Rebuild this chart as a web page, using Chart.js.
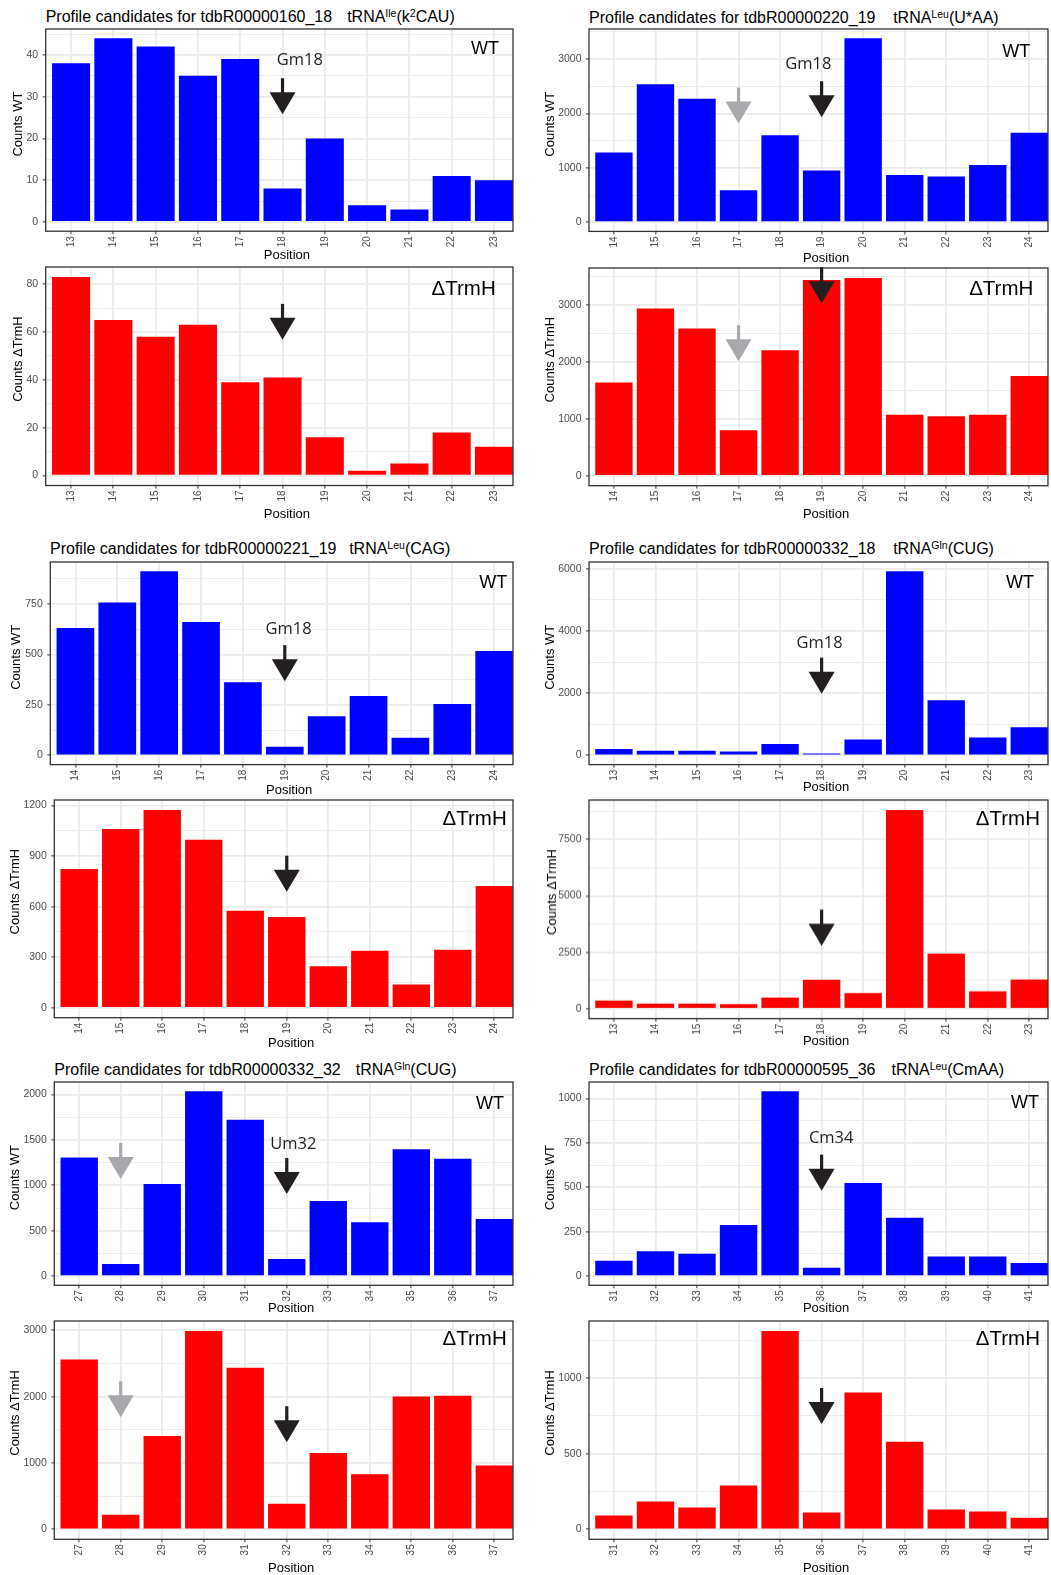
<!DOCTYPE html>
<html>
<head>
<meta charset="utf-8">
<script src="https://cdn.jsdelivr.net/npm/chart.js@4.4.1/dist/chart.umd.min.js"></script>
<style>
  body { margin: 0; background: #fff; width: 1051px; height: 1575px; position: relative; overflow: hidden;
         font-family: "Liberation Sans", Arial, sans-serif; }
  .panel { position: absolute; }
  .title { position: absolute; font-size: 16px; line-height: 18px; white-space: nowrap; color: #000; }
  .title sup { font-size: 10.5px; line-height: 0; vertical-align: 5px; }
</style>
</head>
<body>
<div class="title" style="left:45.7px;top:7.8px">Profile candidates for tdbR00000160_18<span style="margin-left:15px">tRNA<sup>Ile</sup>(k<sup>2</sup>CAU)</span></div>
<div class="title" style="left:589px;top:8.8px">Profile candidates for tdbR00000220_19<span style="margin-left:17.7px">tRNA<sup>Leu</sup>(U*AA)</span></div>
<div class="title" style="left:50px;top:539.5px">Profile candidates for tdbR00000221_19<span style="margin-left:12.7px">tRNA<sup>Leu</sup>(CAG)</span></div>
<div class="title" style="left:589px;top:539.7px">Profile candidates for tdbR00000332_18<span style="margin-left:17.7px">tRNA<sup>Gln</sup>(CUG)</span></div>
<div class="title" style="left:54.3px;top:1061px">Profile candidates for tdbR00000332_32<span style="margin-left:15px">tRNA<sup>Gln</sup>(CUG)</span></div>
<div class="title" style="left:589px;top:1061px">Profile candidates for tdbR00000595_36<span style="margin-left:16px">tRNA<sup>Leu</sup>(CmAA)</span></div>

<script>
// ---- data: read counts per position ----
const pos160 = [13, 14, 15, 16, 17, 18, 19, 20, 21, 22, 23];
const wt160 = [38, 44, 42, 35, 39, 8, 20, 4, 3, 11, 10];
const trmh160 = [83, 65, 58, 63, 39, 41, 16, 2, 5, 18, 12];
const ticksWt160 = [0, 10, 20, 30, 40];
const ticksTrmh160 = [0, 20, 40, 60, 80];

const pos220 = [14, 15, 16, 17, 18, 19, 20, 21, 22, 23, 24];
const wt220 = [1280, 2540, 2270, 590, 1600, 950, 3385, 868, 843, 1051, 1644];
const trmh220 = [1637, 2936, 2586, 798, 2202, 3437, 3472, 1072, 1043, 1072, 1753];
const ticksWt220 = [0, 1000, 2000, 3000];
const ticksTrmh220 = [0, 1000, 2000, 3000];

const pos221 = [14, 15, 16, 17, 18, 19, 20, 21, 22, 23, 24];
const wt221 = [632, 758, 913, 661, 362, 43, 194, 294, 87, 255, 518];
const trmh221 = [824, 1060, 1174, 997, 576, 539, 246, 338, 138, 344, 722];
const ticksWt221 = [0, 250, 500, 750];
const ticksTrmh221 = [0, 300, 600, 900, 1200];

const pos332a = [13, 14, 15, 16, 17, 18, 19, 20, 21, 22, 23];
const wt332a = [203, 150, 150, 128, 363, 64, 512, 5925, 1772, 576, 907];
const trmh332a = [354, 221, 221, 207, 487, 1284, 694, 8814, 2436, 768, 1299];
const ticksWt332a = [0, 2000, 4000, 6000];
const ticksTrmh332a = [0, 2500, 5000, 7500];

const pos332b = [27, 28, 29, 30, 31, 32, 33, 34, 35, 36, 37];
const wt332b = [1308, 132, 1015, 2037, 1722, 187, 828, 593, 1399, 1293, 630];
const trmh332b = [2559, 220, 1407, 2990, 2434, 386, 1152, 831, 2003, 2013, 962];
const ticksWt332b = [0, 500, 1000, 1500, 2000];
const ticksTrmh332b = [0, 1000, 2000, 3000];

const pos595 = [31, 32, 33, 34, 35, 36, 37, 38, 39, 40, 41];
const wt595 = [86, 140, 125, 288, 1041, 47, 524, 328, 110, 110, 73];
const trmh595 = [92, 185, 145, 290, 1312, 112, 905, 580, 132, 119, 77];
const ticksWt595 = [0, 250, 500, 750, 1000];
const ticksTrmh595 = [0, 500, 1000];

const BLUE = '#0000FF', RED = '#FF0000';
const DARK = '#231F20', GREY = '#A7A9AC';
const FAMILY = "'Liberation Sans', Arial, sans-serif";
const WT_DY = -6, TRMH_DY = -17.2;   // axis titles sit a bit above the panel centre

// ---- panel layout (page pixels) and annotations ----
const panels = [
  { col: 0, box: {l: 45.7, t: 29.3, r: 513, b: 231.5}, x: pos160, y: wt160, ticks: ticksWt160, color: BLUE,
    yTitle: 'Counts WT', ytx: 18.3, ytDy: WT_DY, posY: 255.3, tag: ['WT', 499, 49.3, 18],
    arrows: [{x: 18, tip: 25.8, c: DARK}], notes: [{t: 'Gm18', x: 18.41, y: 38.7}] },
  { col: 0, box: {l: 45.7, t: 267.3, r: 513, b: 485.8}, x: pos160, y: trmh160, ticks: ticksTrmh160, color: RED,
    yTitle: 'Counts ΔTrmH', ytx: 18.3, ytDy: TRMH_DY, posY: 514.3, tag: ['ΔTrmH', 495.7, 290, 20.5],
    arrows: [{x: 18, tip: 56.7, c: DARK}], notes: [] },
  { col: 525, box: {l: 589, t: 29.3, r: 1048, b: 231.7}, x: pos220, y: wt220, ticks: ticksWt220, color: BLUE,
    yTitle: 'Counts WT', ytx: 550, ytDy: WT_DY, posY: 258.3, tag: ['WT', 1030.3, 52.7, 18],
    arrows: [{x: 17, tip: 1815, c: GREY}, {x: 19, tip: 1931, c: DARK}], notes: [{t: 'Gm18', x: 18.68, y: 2914}] },
  { col: 525, box: {l: 589, t: 268.3, r: 1048, b: 486}, x: pos220, y: trmh220, ticks: ticksTrmh220, color: RED,
    yTitle: 'Counts ΔTrmH', ytx: 550.3, ytDy: TRMH_DY, posY: 514.3, tag: ['ΔTrmH', 1033.3, 290, 20.5],
    arrows: [{x: 17, tip: 2010, c: GREY}, {x: 19, tip: 3029, c: DARK}], notes: [] },
  { col: 0, box: {l: 50.3, t: 561.7, r: 513, b: 764.3}, x: pos221, y: wt221, ticks: ticksWt221, color: BLUE,
    yTitle: 'Counts WT', ytx: 16, ytDy: WT_DY, posY: 790, tag: ['WT', 507.3, 582.7, 18],
    arrows: [{x: 19, tip: 368, c: DARK}], notes: [{t: 'Gm18', x: 19.09, y: 627}] },
  { col: 0, box: {l: 54.3, t: 800, r: 513, b: 1017.7}, x: pos221, y: trmh221, ticks: ticksTrmh221, color: RED,
    yTitle: 'Counts ΔTrmH', ytx: 15.3, ytDy: TRMH_DY, posY: 1043, tag: ['ΔTrmH', 506.7, 819.3, 20.5],
    arrows: [{x: 19, tip: 689, c: DARK}], notes: [] },
  { col: 525, box: {l: 589, t: 561.7, r: 1048, b: 764.3}, x: pos332a, y: wt332a, ticks: ticksWt332a, color: BLUE,
    yTitle: 'Counts WT', ytx: 550, ytDy: WT_DY, posY: 787.3, tag: ['WT', 1034, 582.7, 18],
    arrows: [{x: 18, tip: 1986, c: DARK}], notes: [{t: 'Gm18', x: 17.95, y: 3592}] },
  { col: 525, box: {l: 589, t: 800, r: 1048, b: 1017.7}, x: pos332a, y: trmh332a, ticks: ticksTrmh332a, color: RED,
    yTitle: 'Counts ΔTrmH', ytx: 552.3, ytDy: TRMH_DY, posY: 1040.5, tag: ['ΔTrmH', 1040, 819.3, 20.5],
    arrows: [{x: 18, tip: 2790, c: DARK}], notes: [] },
  { col: 0, box: {l: 54.3, t: 1081.7, r: 513, b: 1285}, x: pos332b, y: wt332b, ticks: ticksWt332b, color: BLUE,
    yTitle: 'Counts WT', ytx: 15.3, ytDy: WT_DY, posY: 1308.3, tag: ['WT', 504, 1103.3, 18],
    arrows: [{x: 28, tip: 1070, c: GREY}, {x: 32, tip: 905, c: DARK}], notes: [{t: 'Um32', x: 32.16, y: 1456}] },
  { col: 0, box: {l: 54.3, t: 1320.7, r: 513, b: 1539}, x: pos332b, y: trmh332b, ticks: ticksTrmh332b, color: RED,
    yTitle: 'Counts ΔTrmH', ytx: 15.3, ytDy: TRMH_DY, posY: 1568.3, tag: ['ΔTrmH', 506.7, 1339.3, 20.5],
    arrows: [{x: 28, tip: 1688, c: GREY}, {x: 32, tip: 1312, c: DARK}], notes: [] },
  { col: 525, box: {l: 589, t: 1081.7, r: 1048, b: 1285}, x: pos595, y: wt595, ticks: ticksWt595, color: BLUE,
    yTitle: 'Counts WT', ytx: 550, ytDy: WT_DY, posY: 1308.3, tag: ['WT', 1039, 1102.7, 18],
    arrows: [{x: 36, tip: 481, c: DARK}], notes: [{t: 'Cm34', x: 36.23, y: 776}] },
  { col: 525, box: {l: 589, t: 1320.7, r: 1048, b: 1539}, x: pos595, y: trmh595, ticks: ticksTrmh595, color: RED,
    yTitle: 'Counts ΔTrmH', ytx: 550.3, ytDy: TRMH_DY, posY: 1567.7, tag: ['ΔTrmH', 1040, 1339.3, 20.5],
    arrows: [{x: 36, tip: 697, c: DARK}], notes: [] }
];

Chart.defaults.font.family = FAMILY;
Chart.defaults.animation = false;

// major ticks plus unlabeled minor ticks halfway between them (ggplot style)
function withMinor(major, lo, hi) {
  const step = major[1] - major[0];
  const out = major.map(v => ({value: v}));
  for (let v = major[0] - step / 2; v <= hi; v += step) {
    if (v >= lo) out.push({value: v, minor: true});
  }
  return out.sort((a, b) => a.value - b.value);
}

function drawArrow(ctx, px, tipY, color) {
  ctx.fillStyle = color;
  ctx.fillRect(px - 1.6, tipY - 36, 3.2, 16);
  ctx.beginPath();
  ctx.moveTo(px - 13, tipY - 22);
  ctx.lineTo(px + 13, tipY - 22);
  ctx.lineTo(px, tipY);
  ctx.closePath();
  ctx.fill();
}

function makePanel(p) {
  const top = p.box.t - 2;
  const yW = p.box.l - p.col;
  const xH = p.posY + 8 - p.box.b;
  const w = p.box.r - p.col + 2;
  const h = p.box.b - top + xH;

  const wrap = document.createElement('div');
  wrap.className = 'panel';
  wrap.style.cssText = `left:${p.col}px;top:${top}px;width:${w}px;height:${h}px`;
  const canvas = document.createElement('canvas');
  wrap.appendChild(canvas);
  document.body.appendChild(wrap);

  const ymax = Math.max(...p.y);
  const isMinor = c => c.tick && c.tick.minor;

  new Chart(canvas, {
    type: 'bar',
    data: {
      datasets: [{
        data: p.x.map((v, i) => ({x: v, y: p.y[i]})),
        backgroundColor: p.color,
        borderWidth: 0,
        categoryPercentage: 1,
        barPercentage: 0.9
      }]
    },
    options: {
      responsive: true,
      maintainAspectRatio: false,
      layout: {padding: {top: 2, right: 2, left: 0, bottom: 0}},
      plugins: {legend: {display: false}, tooltip: {enabled: false}},
      scales: {
        x: {
          type: 'linear',
          offset: false,
          min: p.x[0] - 0.6,
          max: p.x[p.x.length - 1] + 0.45,
          afterBuildTicks: s => { s.ticks = p.x.map(v => ({value: v})); },
          afterFit: s => { s.height = xH; s.paddingLeft = 0; s.paddingRight = 0; },
          grid: {color: '#EBEBEB', lineWidth: 1.8, offset: false, tickLength: 3, tickColor: '#333333', tickWidth: 1},
          border: {display: false},
          ticks: {autoSkip: false, minRotation: 90, maxRotation: 90, padding: 2, color: '#4D4D4D',
                  font: {size: 10}, callback: v => String(v)},
          title: {display: false}
        },
        y: {
          min: -0.05 * ymax,
          max: 1.05 * ymax,
          afterBuildTicks: s => { s.ticks = withMinor(p.ticks, s.min, s.max); },
          afterFit: s => { s.width = yW; s.paddingTop = 0; s.paddingBottom = 0; },
          grid: {
            color: '#EBEBEB',
            lineWidth: c => isMinor(c) ? 0.9 : 1.8,
            tickLength: 3,
            tickColor: c => isMinor(c) ? 'rgba(0,0,0,0)' : '#333333',
            tickWidth: 1
          },
          border: {display: false},
          ticks: {autoSkip: false, padding: 4.5, color: '#4D4D4D', font: {size: 10.5},
                  callback: (v, i, t) => t[i].minor ? '' : String(v)},
          title: {display: false}
        }
      }
    },
    plugins: [{
      id: 'panelDeco',
      afterDatasetsDraw(chart) {
        const {ctx, chartArea: a, scales: {x, y}} = chart;
        ctx.save();
        p.arrows.forEach(ar => drawArrow(ctx, x.getPixelForValue(ar.x), y.getPixelForValue(ar.tip), ar.c));
        ctx.fillStyle = DARK;
        ctx.textAlign = 'center';
        ctx.textBaseline = 'middle';
        ctx.font = "16.5px 'Open Sans', sans-serif";
        p.notes.forEach(n => ctx.fillText(n.t, x.getPixelForValue(n.x), y.getPixelForValue(n.y)));
        // WT / ΔTrmH tag in the top right corner
        ctx.fillStyle = '#000';
        ctx.textAlign = 'right';
        ctx.font = p.tag[3] + 'px ' + FAMILY;
        ctx.fillText(p.tag[0], p.tag[1] - p.col, p.tag[2] - top);
        // panel border
        ctx.strokeStyle = '#333333';
        ctx.lineWidth = 1.3;
        ctx.strokeRect(a.left, a.top, a.right - a.left, a.bottom - a.top);
        ctx.restore();
      },
      afterDraw(chart) {
        // axis titles
        const {ctx, chartArea: a} = chart;
        ctx.save();
        ctx.fillStyle = '#000';
        ctx.font = '13px ' + FAMILY;
        ctx.textAlign = 'center';
        ctx.textBaseline = 'middle';
        ctx.fillText('Position', (a.left + a.right) / 2 + 7.5, p.posY - top);
        ctx.translate(p.ytx - p.col, (a.top + a.bottom) / 2 + p.ytDy);
        ctx.rotate(-Math.PI / 2);
        ctx.fillText(p.yTitle, 0, 0);
        ctx.restore();
      }
    }]
  });
}

panels.forEach(makePanel);
</script>
</body>
</html>
